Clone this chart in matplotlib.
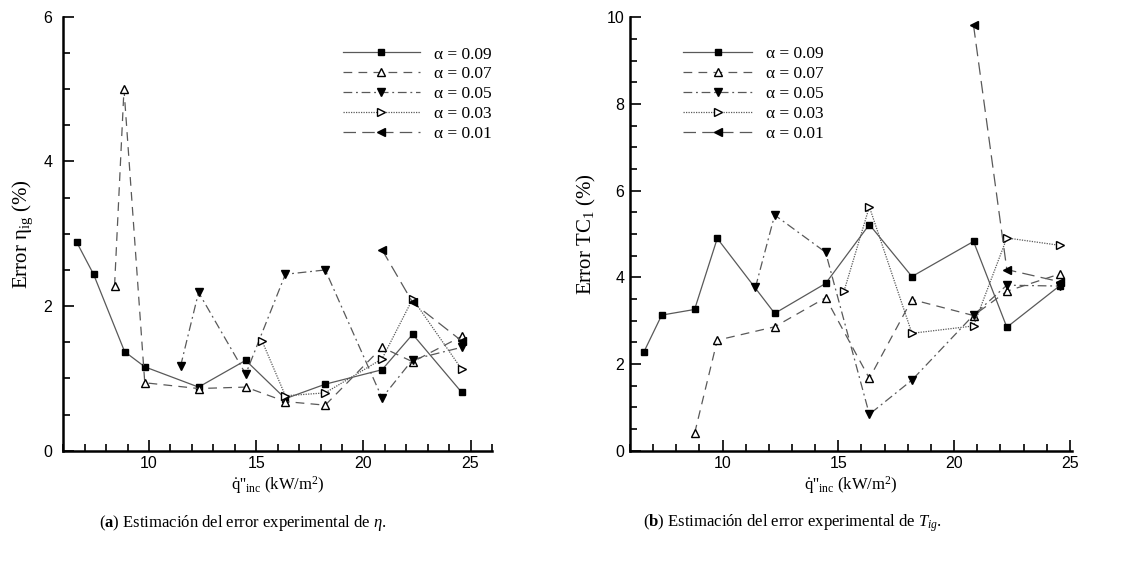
import matplotlib
matplotlib.use("Agg")
import matplotlib.pyplot as plt
from matplotlib.ticker import MultipleLocator

plt.rcParams["font.family"] = ["Liberation Serif", "DejaVu Serif"]
plt.rcParams["mathtext.fontset"] = "custom"
plt.rcParams["mathtext.rm"] = "Liberation Serif"
plt.rcParams["mathtext.it"] = "Liberation Serif:italic"
plt.rcParams["mathtext.bf"] = "Liberation Serif:bold"

# ===== data: (a) error eta =====
labels = ["α = 0.09", "α = 0.07", "α = 0.05", "α = 0.03", "α = 0.01"]

a_x09 = [6.63, 7.41, 8.86, 9.80, 12.31, 14.51, 16.36, 18.22, 20.87, 22.30, 24.58]
a_y09 = [2.88, 2.44, 1.37, 1.16, 0.88, 1.25, 0.72, 0.92, 1.12, 1.61, 0.81]
a_x07 = [8.39, 8.83, 9.80, 12.31, 14.51, 16.36, 18.22, 20.87, 22.30, 24.58]
a_y07 = [2.28, 5.00, 0.94, 0.86, 0.88, 0.68, 0.63, 1.43, 1.23, 1.58]
a_x05 = [11.47, 12.31, 14.51, 16.36, 18.22, 20.87, 22.30, 24.58]
a_y05 = [1.17, 2.19, 1.06, 2.44, 2.50, 0.73, 1.26, 1.43]
a_x03 = [15.27, 16.36, 18.22, 20.87, 22.30, 24.58]
a_y03 = [1.52, 0.76, 0.80, 1.27, 2.10, 1.13]
a_x01 = [20.87, 22.30, 24.58]
a_y01 = [2.78, 2.05, 1.52]

# ===== data: (b) error TC1 =====
b_x09 = [6.60, 7.37, 8.79, 9.77, 12.25, 14.45, 16.34, 18.18, 20.84, 22.28, 24.57]
b_y09 = [2.28, 3.13, 3.26, 4.90, 3.17, 3.86, 5.22, 4.02, 4.83, 2.85, 3.81]
b_x07 = [8.79, 9.77, 12.25, 14.45, 16.34, 18.18, 20.84, 22.28, 24.57]
b_y07 = [0.40, 2.55, 2.86, 3.53, 1.67, 3.49, 3.12, 3.68, 4.08]
b_x05 = [11.42, 12.25, 14.45, 16.34, 18.18, 20.84, 22.28, 24.57]
b_y05 = [3.77, 5.44, 4.58, 0.84, 1.63, 3.13, 3.82, 3.80]
b_x03 = [15.25, 16.34, 18.18, 20.84, 22.28, 24.57]
b_y03 = [3.69, 5.63, 2.71, 2.88, 4.91, 4.74]
b_x01 = [20.84, 22.28, 24.57]
b_y01 = [9.82, 4.18, 3.90]

# ===== styles =====
LC = "0.35"
styles = [
    dict(ls="-", marker="s", mfc="k", mec="k", ms=5),
    dict(ls=(0, (7, 5)), marker="^", mfc="white", mec="k", ms=6),
    dict(ls=(0, (7, 3, 1.5, 3)), marker="v", mfc="k", mec="k", ms=6),
    dict(ls=(0, (1, 1)), marker=">", mfc="white", mec="k", ms=6),
    dict(ls=(0, (10, 5)), marker="<", mfc="k", mec="k", ms=6),
]


def style_axes(ax, ymax, ymajor, yminor, xlim, ypad):
    for s in ["top", "right"]:
        ax.spines[s].set_visible(False)
    for s in ["left", "bottom"]:
        ax.spines[s].set_linewidth(1.8)
    ax.set_xlim(*xlim)
    ax.set_ylim(0, ymax)
    ax.xaxis.set_major_locator(MultipleLocator(5))
    ax.xaxis.set_minor_locator(MultipleLocator(1))
    ax.yaxis.set_major_locator(MultipleLocator(ymajor))
    ax.yaxis.set_minor_locator(MultipleLocator(yminor))
    ax.tick_params(which="both", direction="in", width=1.2)
    ax.tick_params(which="major", length=8, labelsize=11.5)
    ax.tick_params(which="minor", length=5)
    ax.tick_params(axis="x", pad=4)
    ax.tick_params(axis="y", pad=ypad)
    for lab in ax.get_xticklabels() + ax.get_yticklabels():
        lab.set_family("Liberation Sans")


fig = plt.figure(figsize=(11.25, 5.62), dpi=100)
ax1 = fig.add_axes([0.0563, 0.198, 0.381, 0.772])
ax2 = fig.add_axes([0.560, 0.198, 0.393, 0.771])

series_a = [(a_x09, a_y09), (a_x07, a_y07), (a_x05, a_y05), (a_x03, a_y03), (a_x01, a_y01)]
series_b = [(b_x09, b_y09), (b_x07, b_y07), (b_x05, b_y05), (b_x03, b_y03), (b_x01, b_y01)]

for ax, series in [(ax1, series_a), (ax2, series_b)]:
    for (xs, ys), lab, st in zip(series, labels, styles):
        ax.plot(xs, ys, color=LC, lw=0.9, label=lab, **st)

style_axes(ax1, 6, 2, 0.5, (6, 26), 8)
style_axes(ax2, 10, 2, 0.5, (6, 25.1), 4)

ax1.set_ylabel("Error η$_{\\mathrm{ig}}$ (%)", fontsize=15, labelpad=6)
ax2.set_ylabel("Error TC$_{1}$ (%)", fontsize=15, labelpad=6)
xl = "$\\dot{\\mathrm{q}}$''$_{\\mathrm{inc}}$ (kW/m$^{2}$)"
ax1.set_xlabel(xl, fontsize=12, labelpad=2)
ax2.set_xlabel(xl, fontsize=12, labelpad=2)

leg_kw = dict(frameon=False, fontsize=12.5, handletextpad=0.8,
              labelspacing=0.22, borderpad=0, borderaxespad=0, loc="upper left")
ax1.legend(bbox_to_anchor=(0.653, 0.932), handlelength=4.4, **leg_kw)
ax2.legend(bbox_to_anchor=(0.12, 0.934), handlelength=4.0, **leg_kw)

fig.text(0.216, 0.069, "($\\mathbf{a}$) Estimación del error experimental de $\\eta$.",
         ha="center", va="center", fontsize=12)
fig.text(0.704, 0.069, "($\\mathbf{b}$) Estimación del error experimental de $T_{ig}$.",
         ha="center", va="center", fontsize=12)

fig.savefig("out.png", dpi=100)
